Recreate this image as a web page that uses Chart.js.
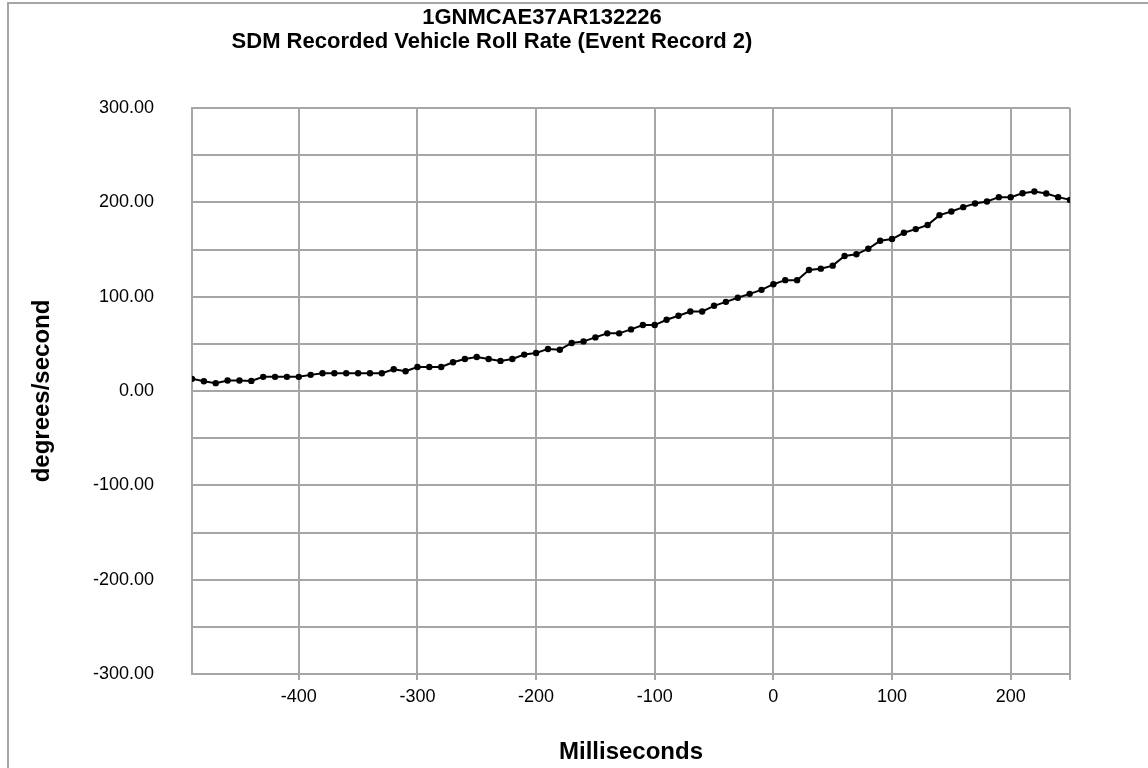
<!DOCTYPE html>
<html>
<head>
<meta charset="utf-8">
<title>SDM Recorded Vehicle Roll Rate</title>
<script src="https://cdn.jsdelivr.net/npm/chart.js@4.4.1/dist/chart.umd.min.js"></script>
<style>
  html, body { margin: 0; padding: 0; background: #fff; overflow: hidden; }
  #wrap { position: relative; width: 1148px; height: 768px; }
  #frame {
    position: absolute; left: 7px; top: 2px; width: 1200px; height: 820px;
    border: 2px solid #a6a6a6; pointer-events: none;
  }
</style>
</head>
<body>
<div id="wrap">
  <canvas id="roll-chart" width="1148" height="768"></canvas>
  <div id="frame"></div>
</div>
<script>
// Chart text
const titleLines = ["1GNMCAE37AR132226", "SDM Recorded Vehicle Roll Rate (Event Record 2)"];
const xAxisTitle = "Milliseconds";
const yAxisTitle = "degrees/second";

// Sample times (ms), one every 10 ms
const msTimes = [
  -490, -480, -470, -460, -450, -440, -430, -420, -410, -400,
  -390, -380, -370, -360, -350, -340, -330, -320, -310, -300,
  -290, -280, -270, -260, -250, -240, -230, -220, -210, -200,
  -190, -180, -170, -160, -150, -140, -130, -120, -110, -100,
  -90, -80, -70, -60, -50, -40, -30, -20, -10, 0,
  10, 20, 30, 40, 50, 60, 70, 80, 90, 100,
  110, 120, 130, 140, 150, 160, 170, 180, 190, 200,
  210, 220, 230, 240, 250
];

// Roll rate (deg/s)
const rollRates = [
  12.9, 10.4, 8.3, 11.1, 11.1, 10.7, 15.0, 15.0, 15.0, 15.0,
  17.1, 18.8, 18.8, 18.8, 18.8, 18.8, 18.8, 23.0, 20.9, 25.5,
  25.5, 25.5, 30.4, 34.0, 36.1, 34.0, 31.9, 34.0, 38.6, 40.3,
  44.6, 43.8, 50.9, 52.6, 56.8, 61.1, 61.1, 65.3, 69.9, 69.9,
  75.5, 79.8, 84.3, 84.3, 90.3, 94.5, 98.8, 103.0, 107.2, 113.2,
  117.5, 117.5, 128.3, 129.7, 132.9, 143.1, 144.9, 150.8, 159.2, 161.1,
  167.7, 171.6, 175.9, 186.4, 190.3, 194.9, 198.8, 200.9, 205.5, 205.5,
  209.7, 211.5, 209.4, 205.5, 202.6
];

// Axis ticks
const xTickValues = [-400, -300, -200, -100, 0, 100, 200, 250];
const xTickLabels = ["-400", "-300", "-200", "-100", "0", "100", "200", ""];
const yTickValues = [-300, -250, -200, -150, -100, -50, 0, 50, 100, 150, 200, 250, 300];
const yTickLabels = ["-300.00", "", "-200.00", "", "-100.00", "", "0.00", "", "100.00", "", "200.00", "", "300.00"];

const FONT = "'Liberation Sans', Arial, sans-serif";
const GRID = "#a6a6a6";

// two-line title, placed like the Excel original (lines not sharing a centre)
const excelTitle = {
  id: "excelTitle",
  afterDraw(chart) {
    const ctx = chart.ctx;
    ctx.save();
    ctx.fillStyle = "#000";
    ctx.font = "bold 22px " + FONT;
    ctx.textAlign = "center";
    ctx.textBaseline = "middle";
    ctx.fillText(titleLines[0], 542, 18);
    ctx.fillText(titleLines[1], 492, 42);
    ctx.restore();
  }
};

const points = msTimes.map((t, i) => ({ x: t, y: rollRates[i] }));

new Chart(document.getElementById("roll-chart"), {
  type: "scatter",
  data: {
    datasets: [{
      data: points,
      showLine: true,
      borderColor: "#000",
      borderWidth: 2,
      pointRadius: 3.2,
      pointBackgroundColor: "#000",
      pointBorderColor: "#000",
      pointBorderWidth: 0,
      tension: 0,
    }],
  },
  options: {
    responsive: false,
    animation: false,
    events: [],
    layout: { padding: { top: 108, right: 78, left: 0, bottom: 0 } },
    plugins: {
      legend: { display: false },
      tooltip: { enabled: false },
    },
    scales: {
      x: {
        type: "linear",
        min: -490,
        max: 250,
        afterBuildTicks: s => { s.ticks = xTickValues.map(v => ({ value: v })); },
        afterFit: s => { s.height = 94; },
        ticks: {
          color: "#000",
          font: { family: FONT, size: 18 },
          padding: 6,
          maxRotation: 0,
          autoSkip: false,
          callback: v => xTickLabels[xTickValues.indexOf(v)],
        },
        grid: { color: GRID, lineWidth: 2, drawTicks: true, tickLength: 6, tickColor: GRID },
        border: { color: GRID, width: 2 },
        title: {
          display: true,
          text: xAxisTitle,
          color: "#000",
          font: { family: FONT, size: 24, weight: "bold" },
          padding: { top: 0, bottom: 1 },
        },
      },
      y: {
        min: -300,
        max: 300,
        afterBuildTicks: s => { s.ticks = yTickValues.map(v => ({ value: v })); },
        afterFit: s => { s.width = 192; },
        ticks: {
          color: "#000",
          font: { family: FONT, size: 18 },
          padding: 38,
          autoSkip: false,
          callback: v => yTickLabels[yTickValues.indexOf(v)],
        },
        grid: { color: GRID, lineWidth: 2, drawTicks: false },
        border: { color: GRID, width: 2 },
        title: {
          display: true,
          text: yAxisTitle,
          color: "#000",
          font: { family: FONT, size: 24, weight: "bold" },
          padding: { top: 28, bottom: 0 },
        },
      },
    },
  },
  plugins: [excelTitle],
});
</script>
</body>
</html>
